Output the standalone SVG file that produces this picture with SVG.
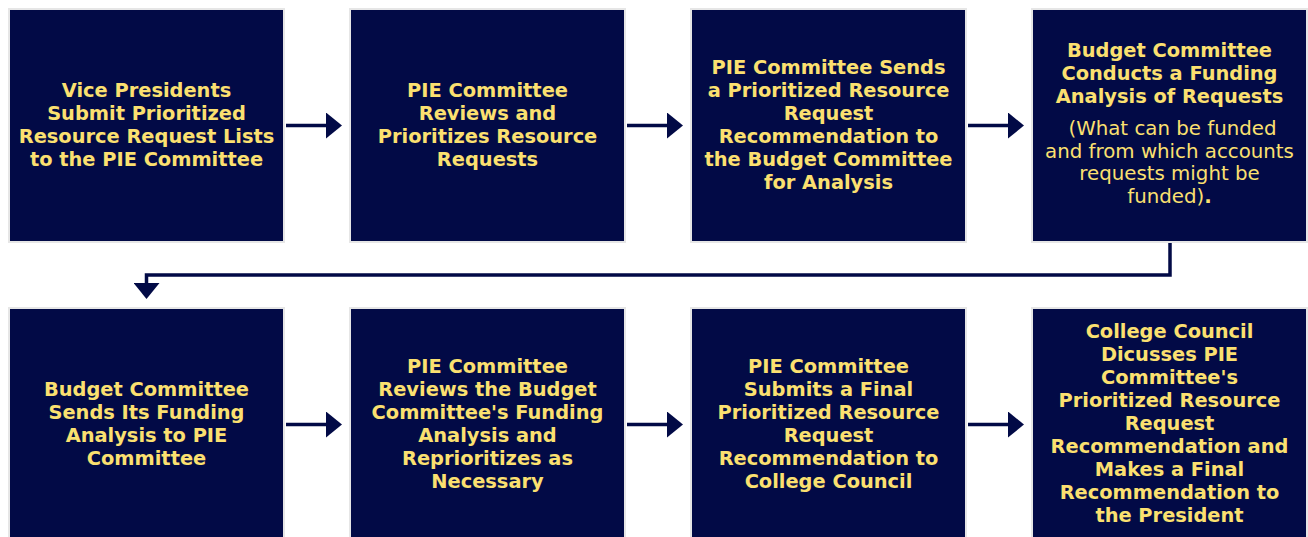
<svg xmlns="http://www.w3.org/2000/svg" width="1308" height="537" viewBox="0 0 1308 537">
<style>
.box{fill:#020a46;stroke:#e6e6e6;stroke-width:2}
.t{font-family:"DejaVu Sans",Verdana,sans-serif;font-weight:bold;font-size:19.4px;fill:#fbe070;text-anchor:middle}
.r{font-weight:normal;font-size:19.8px}
.c{fill:none;stroke:#020a46;stroke-width:3.5}
</style>
<defs>
<marker id="ah" markerUnits="userSpaceOnUse" markerWidth="16" markerHeight="26" refX="0" refY="13" orient="auto">
<path d="M0,0 L16,13 L0,26 z" fill="#020a46"/>
</marker>
</defs>
<rect width="1308" height="537" fill="#ffffff"/>
<g id="connectors">
<path class="c" d="M286,125.5 H326" marker-end="url(#ah)"/>
<path class="c" d="M627,125.5 H667" marker-end="url(#ah)"/>
<path class="c" d="M968,125.5 H1008" marker-end="url(#ah)"/>
<path class="c" d="M1170,243 V275 H146.5 V283" marker-end="url(#ah)"/>
<path class="c" d="M286,424.5 H326" marker-end="url(#ah)"/>
<path class="c" d="M627,424.5 H667" marker-end="url(#ah)"/>
<path class="c" d="M968,424.5 H1008" marker-end="url(#ah)"/>
</g>
<g id="n1">
<rect class="box" x="9" y="9" width="275" height="233"/>
<text class="t"><tspan x="146.5" y="96.5">Vice Presidents</tspan><tspan x="146.5" y="119.5">Submit Prioritized</tspan><tspan x="146.5" y="142.5">Resource Request Lists</tspan><tspan x="146.5" y="165.5">to the PIE Committee</tspan></text>
</g>
<g id="n2">
<rect class="box" x="350" y="9" width="275" height="233"/>
<text class="t"><tspan x="487.5" y="96.5">PIE Committee</tspan><tspan x="487.5" y="119.5">Reviews and</tspan><tspan x="487.5" y="142.5">Prioritizes Resource</tspan><tspan x="487.5" y="165.5">Requests</tspan></text>
</g>
<g id="n3">
<rect class="box" x="691" y="9" width="275" height="233"/>
<text class="t"><tspan x="828.5" y="73.5">PIE Committee Sends</tspan><tspan x="828.5" y="96.5">a Prioritized Resource</tspan><tspan x="828.5" y="119.5">Request</tspan><tspan x="828.5" y="142.5">Recommendation to</tspan><tspan x="828.5" y="165.5">the Budget Committee</tspan><tspan x="828.5" y="188.5">for Analysis</tspan></text>
</g>
<g id="n4">
<rect class="box" x="1032" y="9" width="275" height="233"/>
<text class="t"><tspan x="1169.5" y="57">Budget Committee</tspan><tspan x="1169.5" y="80">Conducts a Funding</tspan><tspan x="1169.5" y="103">Analysis of Requests</tspan></text>
<text class="t r"><tspan x="1172.5" y="135">(What can be funded</tspan><tspan x="1169.5" y="157.7">and from which accounts</tspan><tspan x="1169.5" y="180.3">requests might be</tspan><tspan x="1169.5" y="203">funded)<tspan font-weight="bold">.</tspan></tspan></text>
</g>
<g id="n5">
<rect class="box" x="9" y="308" width="275" height="233"/>
<text class="t"><tspan x="146.5" y="395.5">Budget Committee</tspan><tspan x="146.5" y="418.5">Sends Its Funding</tspan><tspan x="146.5" y="441.5">Analysis to PIE</tspan><tspan x="146.5" y="464.5">Committee</tspan></text>
</g>
<g id="n6">
<rect class="box" x="350" y="308" width="275" height="233"/>
<text class="t"><tspan x="487.5" y="372.5">PIE Committee</tspan><tspan x="487.5" y="395.5">Reviews the Budget</tspan><tspan x="487.5" y="418.5">Committee's Funding</tspan><tspan x="487.5" y="441.5">Analysis and</tspan><tspan x="487.5" y="464.5">Reprioritizes as</tspan><tspan x="487.5" y="487.5">Necessary</tspan></text>
</g>
<g id="n7">
<rect class="box" x="691" y="308" width="275" height="233"/>
<text class="t"><tspan x="828.5" y="372.5">PIE Committee</tspan><tspan x="828.5" y="395.5">Submits a Final</tspan><tspan x="828.5" y="418.5">Prioritized Resource</tspan><tspan x="828.5" y="441.5">Request</tspan><tspan x="828.5" y="464.5">Recommendation to</tspan><tspan x="828.5" y="487.5">College Council</tspan></text>
</g>
<g id="n8">
<rect class="box" x="1032" y="308" width="275" height="233"/>
<text class="t"><tspan x="1169.5" y="337.5">College Council</tspan><tspan x="1169.5" y="360.6">Dicusses PIE</tspan><tspan x="1169.5" y="383.7">Committee's</tspan><tspan x="1169.5" y="406.8">Prioritized Resource</tspan><tspan x="1169.5" y="429.9">Request</tspan><tspan x="1169.5" y="453">Recommendation and</tspan><tspan x="1169.5" y="476.1">Makes a Final</tspan><tspan x="1169.5" y="499.2">Recommendation to</tspan><tspan x="1169.5" y="522.3">the President</tspan></text>
</g>
</svg>
